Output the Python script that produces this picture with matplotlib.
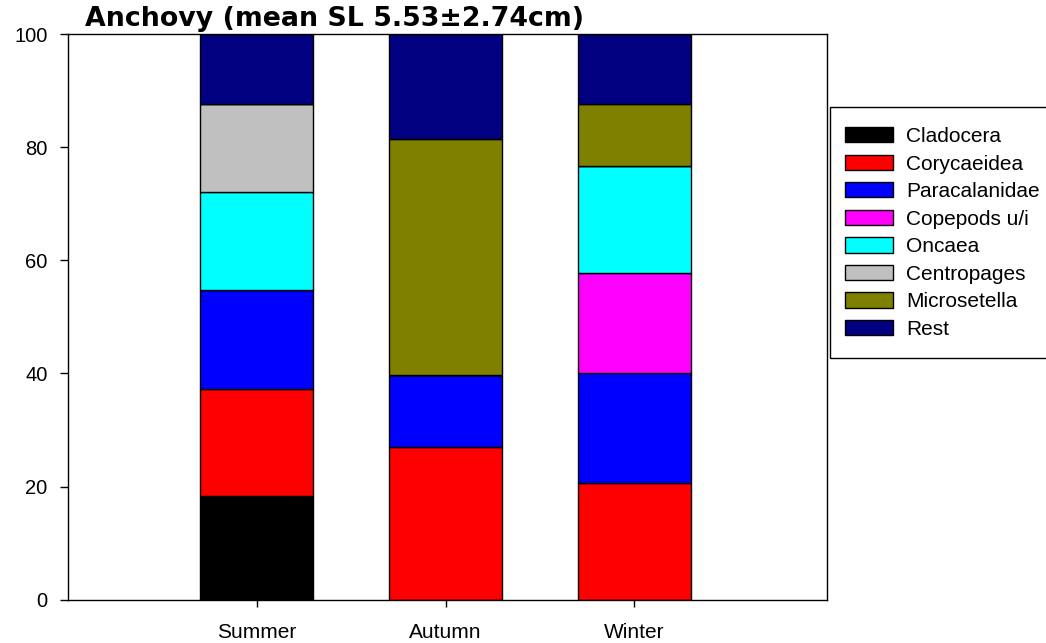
import numpy as np
import matplotlib
matplotlib.use("Agg")
import matplotlib.pyplot as plt
from matplotlib.patches import Rectangle

plt.rcParams['font.family'] = ['Liberation Sans', 'DejaVu Sans']

seasons = ["Summer", "Autumn", "Winter"]
taxa = ["Cladocera", "Corycaeidea", "Paracalanidae", "Copepods u/i",
        "Oncaea", "Centropages", "Microsetella", "Rest"]

# Percentage contribution of each prey group per season
cladocera     = [18.4, 0.0, 0.0]
corycaeidea   = [18.8, 27.0, 20.7]
paracalanidae = [17.5, 12.7, 19.4]
copepods_ui   = [0.0, 0.0, 17.7]
oncaea        = [17.5, 0.0, 18.9]
centropages   = [15.5, 0.0, 0.0]
microsetella  = [0.0, 41.8, 11.0]
rest          = [12.3, 18.5, 12.3]

series = [cladocera, corycaeidea, paracalanidae, copepods_ui,
          oncaea, centropages, microsetella, rest]
colors = ["#000000", "#ff0000", "#0000ff", "#ff00ff",
          "#00ffff", "#c0c0c0", "#808000", "#000080"]

yticks = [0, 20, 40, 60, 80, 100]

W, H = 1046, 643
fig = plt.figure(figsize=(W / 100, H / 100), dpi=100)
ax = fig.add_axes([68 / W, 43.5 / H, 759 / W, 565 / H])

x = np.arange(1, len(seasons) + 1)
bottom = np.zeros(len(seasons))
handles = []
for name, vals, col in zip(taxa, series, colors):
    vals = np.array(vals, dtype=float)
    bars = ax.bar(x, vals, width=0.6, bottom=bottom, color=col,
                  edgecolor="black", linewidth=1.0, label=name)
    handles.append(bars)
    bottom += vals

ax.set_xlim(0, 4.02)
ax.set_ylim(0, 100)
ax.set_xticks(x)
ax.set_xticklabels(seasons, fontsize=15)
ax.set_yticks(yticks)
ax.set_yticklabels([str(t) for t in yticks], fontsize=14.5)
ax.tick_params(axis="both", direction="out", width=1.0, color="black")
ax.tick_params(axis="x", length=5, pad=12)
ax.tick_params(axis="y", length=5.8, pad=9)
for sp in ax.spines.values():
    sp.set_linewidth(1.0)

fig.text(85 / W, 1 - 26 / H, "Anchovy (mean SL 5.53\u00b12.74cm)",
         family=["DejaVu Sans"], fontsize=19.3, fontweight="bold",
         ha="left", va="baseline")

# Legend entries, with a plain rectangular box drawn around them
leg = fig.legend(handles=handles, labels=taxa, loc="upper left",
                 bbox_to_anchor=(845 / W, 1 - 127 / H),
                 fontsize=15, frameon=False,
                 handlelength=2.3, handleheight=0.75, handletextpad=0.62,
                 labelspacing=0.41, borderpad=0, borderaxespad=0)
fig.patches.append(Rectangle((830 / W, 1 - 358 / H), 230 / W, 251 / H,
                             transform=fig.transFigure, facecolor="none",
                             edgecolor="black", linewidth=1.0))

fig.savefig("out.png", dpi=100)
